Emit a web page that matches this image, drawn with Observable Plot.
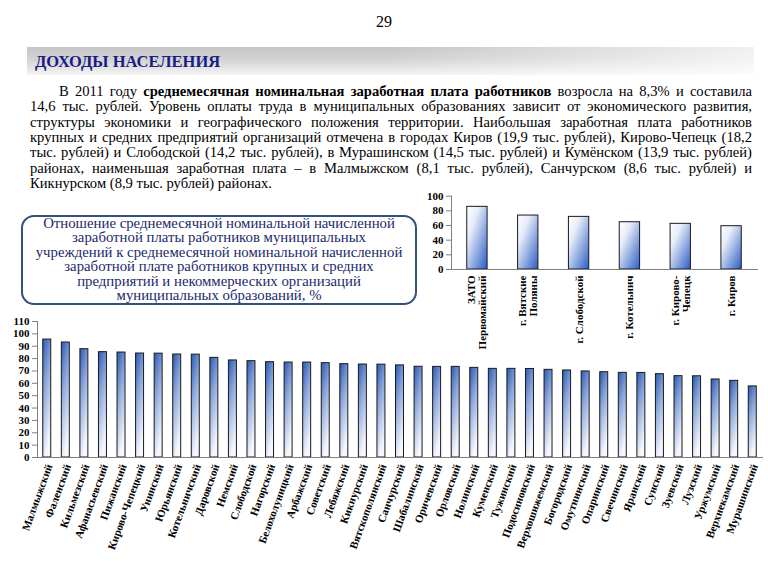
<!DOCTYPE html>
<html>
<head>
<meta charset="utf-8">
<script src="https://cdn.jsdelivr.net/npm/d3@7"></script>
<script src="https://cdn.jsdelivr.net/npm/@observablehq/plot@0.6"></script>
<style>
  html, body { margin: 0; padding: 0; background: #fff; }
  #page { position: relative; width: 768px; height: 576px; overflow: hidden; background: #fff; font-family: "Liberation Serif", "Tinos", "Times New Roman", serif; color: #000; }
  .abs { position: absolute; }
  #pnum { left: 0; width: 768px; top: 12px; text-align: center; font-size: 16px; line-height: 20px; }
  #band { left: 27px; top: 47px; width: 727px; height: 28px;
    background: linear-gradient(to right, rgba(255,255,255,0) 50%, rgba(255,255,255,0.75) 100%),
                linear-gradient(to bottom, #c6c6c6 0%, #d3d3d3 45%, #f4f4f4 100%); }
  #title { left: 35px; top: 51px; font-size: 16.5px; font-weight: bold; color: #1b1b86; line-height: 22px; }
  .pline { position: absolute; white-space: nowrap; font-size: 14.6px; line-height: 16px; }
  #box { left: 21px; top: 215px; width: 396px; height: 90px; border: 2px solid #35507e; border-radius: 13px; box-sizing: border-box; }
  #boxtext { left: 21px; top: 217px; width: 396px; text-align: center; font-size: 13.8px; line-height: 14.4px; color: #1c2a6a; transform: scaleX(1.072); transform-origin: 50% 0; }
  svg { overflow: visible; }
</style>
</head>
<body>
<div id="page">
  <div id="pnum" class="abs">29</div>
  <div id="band" class="abs"></div>
  <div id="title" class="abs">ДОХОДЫ НАСЕЛЕНИЯ</div>
  <div id="para"></div>
  <div id="box" class="abs"></div>
  <div id="boxtext" class="abs"></div>
  <div id="mainChart" class="abs" style="left:0;top:300px;"></div>
  <div id="smallChart" class="abs" style="left:410px;top:185px;"></div>
</div>
<script>
// ---------- data ----------
const districts = ["Малмыжский","Фаленский","Кильмезский","Афанасьевский","Пижанский","Кирово-Чепецкий","Унинский","Юрьянский","Котельничский","Даровской","Немский","Слободской","Нагорский","Белохолуницкий","Арбажский","Советский","Лебяжский","Кикнурский","Вятскополянский","Санчурский","Шабалинский","Оричевский","Орловский","Нолинский","Куменский","Тужинский","Подосиновский","Верхошижемский","Богородский","Омутнинский","Опаринский","Свечинский","Яранский","Сунский","Зуевский","Лузский","Уржумский","Верхнекамский","Мурашинский"];
const districtRatios = [95.4,93.0,87.6,85.2,84.9,84.1,84.0,83.3,83.2,80.6,78.5,77.9,77.1,76.8,76.8,76.3,75.5,75.2,75.1,74.5,73.4,73.3,73.3,72.5,71.7,71.7,71.6,70.9,70.4,69.6,69.0,68.5,68.4,67.4,65.8,65.7,63.1,62.0,57.5];
const mainTicks = [0,10,20,30,40,50,60,70,80,90,100,110];

const cities = ["ЗАТО\nПервомайский","г. Вятские\nПоляны","г. Слободской","г. Котельнич","г. Кирово-\nЧепецк","г. Киров"];
const cityRatios = [85.5,73.6,71.8,64.5,62.3,59.1];
const smallTicks = [0,20,40,60,80,100];

const paraLines = [
  "В 2011 году <b>среднемесячная номинальная заработная плата работников</b> возросла на 8,3% и составила",
  "14,6 тыс. рублей. Уровень оплаты труда в муниципальных образованиях зависит от экономического развития,",
  "структуры экономики и географического положения территории. Наибольшая заработная плата работников",
  "крупных и средних предприятий организаций отмечена в городах Киров (19,9 тыс. рублей), Кирово-Чепецк (18,2",
  "тыс. рублей) и Слободской (14,2 тыс. рублей), в Мурашинском (14,5 тыс. рублей) и Кумёнском (13,9 тыс. рублей)",
  "районах, наименьшая заработная плата – в Малмыжском (8,1 тыс. рублей), Санчурском (8,6 тыс. рублей) и",
  "Кикнурском (8,9 тыс. рублей) районах."
];
const boxLines = [
  "Отношение среднемесячной номинальной начисленной",
  "заработной платы работников муниципальных",
  "учреждений к среднемесячной номинальной начисленной",
  "заработной плате работников крупных и средних",
  "предприятий и некоммерческих организаций",
  "муниципальных образований, %"
];

// ---------- text blocks ----------
const para = document.getElementById("para");
paraLines.forEach((html, i) => {
  const s = document.createElement("span");
  s.className = "pline";
  s.innerHTML = html;
  const left = i === 0 ? 59 : 30;
  s.style.left = left + "px";
  s.style.top = (83 + i * 15.3) + "px";
  para.appendChild(s);
  if (i < paraLines.length - 1) {
    const target = 752 - left;
    const w = s.getBoundingClientRect().width;
    const n = (s.textContent.match(/ /g) || []).length;
    if (n > 0) s.style.wordSpacing = ((target - w) / n) + "px";
  }
});
document.getElementById("boxtext").innerHTML = boxLines.join("<br>");

const NS = "http://www.w3.org/2000/svg";
function addDefs(svg, html) {
  const defs = document.createElementNS(NS, "defs");
  defs.innerHTML = html;
  svg.insertBefore(defs, svg.firstChild);
}
const FONT = "'Liberation Serif', Tinos, 'Times New Roman', serif";

// ---------- main chart ----------
const mainData = districts.map((d, i) => ({name: d, value: districtRatios[i]}));
const mainPlot = Plot.plot({
  width: 768, height: 276,
  marginTop: 21, marginBottom: 119, marginLeft: 37, marginRight: 6,
  style: {background: "transparent", fontFamily: FONT, fontWeight: "bold", color: "#000", overflow: "visible"},
  x: {domain: districts, paddingInner: 0.57, paddingOuter: 0.31, round: false, axis: null},
  y: {domain: [0, 110], axis: null},
  marks: [
    Plot.barY(mainData, {x: "name", y: "value", fill: "url(#gMain)", stroke: "#1a1a1a", strokeWidth: 1}),
    Plot.frame({anchor: "left", stroke: "#808080"}),
    Plot.frame({anchor: "bottom", stroke: "#808080"}),
    Plot.axisY(mainTicks, {label: null, tickSize: 5, tickPadding: 3, fontSize: 11, fontWeight: "bold", stroke: "#808080"}),
    Plot.text(districts, {x: d => d, text: d => d, frameAnchor: "bottom", rotate: -70, textAnchor: "end", lineAnchor: "middle", dy: 7, dx: 2, fontSize: 11, fontWeight: "bold"})
  ]
});
addDefs(mainPlot, `<linearGradient id="gMain" x1="0" y1="0" x2="0.35" y2="1">
  <stop offset="0" stop-color="#2a58b2"/><stop offset="0.45" stop-color="#8fa9dc"/><stop offset="1" stop-color="#f4f7fd"/></linearGradient>`);
document.getElementById("mainChart").appendChild(mainPlot);

// ---------- small chart ----------
const cityData = cities.map((c, i) => ({name: c, value: cityRatios[i]}));
const smallPlot = Plot.plot({
  width: 358, height: 175,
  marginTop: 10.7, marginBottom: 91, marginLeft: 41, marginRight: 11,
  style: {background: "transparent", fontFamily: FONT, fontWeight: "bold", color: "#000", overflow: "visible"},
  x: {domain: cities, paddingInner: 0.6, paddingOuter: 0.31, round: false, axis: null},
  y: {domain: [0, 100], axis: null},
  marks: [
    Plot.barY(cityData, {x: "name", y: "value", fill: "url(#gSmall)", stroke: "#1a1a1a", strokeWidth: 1}),
    Plot.frame({anchor: "left", stroke: "#808080"}),
    Plot.frame({anchor: "bottom", stroke: "#808080"}),
    Plot.axisY(smallTicks, {label: null, tickSize: 5, tickPadding: 3, fontSize: 11, fontWeight: "bold", stroke: "#808080"}),
    Plot.text(cities, {x: d => d, text: d => d, frameAnchor: "bottom", rotate: -90, textAnchor: "end", lineAnchor: "middle", lineHeight: 1, dy: 6, fontSize: 11, fontWeight: "bold"})
  ]
});
addDefs(smallPlot, `<linearGradient id="gSmall" x1="0" y1="0" x2="1" y2="1">
  <stop offset="0" stop-color="#ffffff"/><stop offset="0.3" stop-color="#e6ecf8"/><stop offset="1" stop-color="#2b5cc6"/></linearGradient>`);
document.getElementById("smallChart").appendChild(smallPlot);
</script>
</body>
</html>
